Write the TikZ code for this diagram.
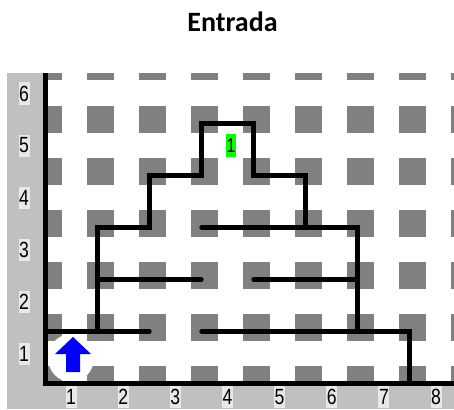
\documentclass[tikz,border=0pt]{standalone}
\usepackage{fontspec}
\newfontfamily\titlefont{Carlito}
\newfontfamily\labfont[FakeStretch=0.8]{Liberation Sans}
\definecolor{strip}{HTML}{C0C0C0}
\definecolor{labbg}{HTML}{E8E8E8}
\definecolor{sq}{HTML}{808080}
\definecolor{grn}{HTML}{00FF00}
\definecolor{arrowblue}{HTML}{0000FF}
\tikzset{
  wall/.style={line width=4.3pt, line cap=round, line join=miter, black},
  axislab/.style={fill=labbg, inner sep=0pt, minimum width=11pt, minimum height=22pt, font=\labfont\fontsize{22}{22}\selectfont},
  sqbox/.style={fill=sq, draw=none}
}
\begin{document}
\begin{tikzpicture}[x=1pt,y=-1pt]
\useasboundingbox (0,0) rectangle (454,409);
% title
\node[anchor=base, font=\titlefont\bfseries\fontsize{28}{28}\selectfont] (title) at (232.5,32) {Entrada};
% strips
\fill[strip] (7,73) rectangle (44,409);
\fill[strip] (7,386) rectangle (454,409);
% gray squares
\begin{scope}
\clip (47.5,74) rectangle (454,382);
\begin{scope}[shift={(45.5,383.5)}, x=52pt, y=52pt]
\foreach \i in {0,...,8}{
  \foreach \j in {0,...,6}{
    \fill[sqbox] ({\i+3/52-13.5/52},{\j+4.5/52-13.5/52}) rectangle ++(27/52,27/52);
  }
}
\end{scope}
% white patch behind the arrow
\fill[white] (71,358) ellipse [x radius=23, y radius=24];
\end{scope}
% axis labels
\foreach \k in {1,...,6}{
  \node[axislab] (r\k) at (24,{353.5-52*(\k-1)}) {\k};
}
\foreach \k in {1,...,8}{
  \node[axislab] (c\k) at ({71+52.15*(\k-1)},397) {\k};
}
% arrow
\fill[arrowblue] (73,337) -- (91,354) -- (80,354) -- (80,372) -- (66,372) -- (66,354) -- (55,354) -- cycle;
% green label
\node[fill=grn, inner sep=0pt, minimum width=10pt, minimum height=23pt, font=\labfont\fontsize{20}{20}\selectfont] (goal) at (231,145.5) {1};
% axes
\draw[line width=4.3pt] (45.5,73) -- (45.5,383.5) -- (454,383.5);
% walls
\begin{scope}[shift={(45.5,383.5)}, x=52pt, y=52pt]
\draw[wall] (0,1) -- (2,1);
\draw[wall] (1,1) -- (1,3) -- (2,3) -- (2,4) -- (3,4) -- (3,5) -- (4,5) -- (4,4) -- (5,4) -- (5,3);
\draw[wall] (3,3) -- (6,3) -- (6,1);
\draw[wall] (1,2) -- (3,2);
\draw[wall] (4,2) -- (6,2);
\draw[wall] (3,1) -- (7,1) -- (7,0);
\end{scope}
\end{tikzpicture}
\end{document}
